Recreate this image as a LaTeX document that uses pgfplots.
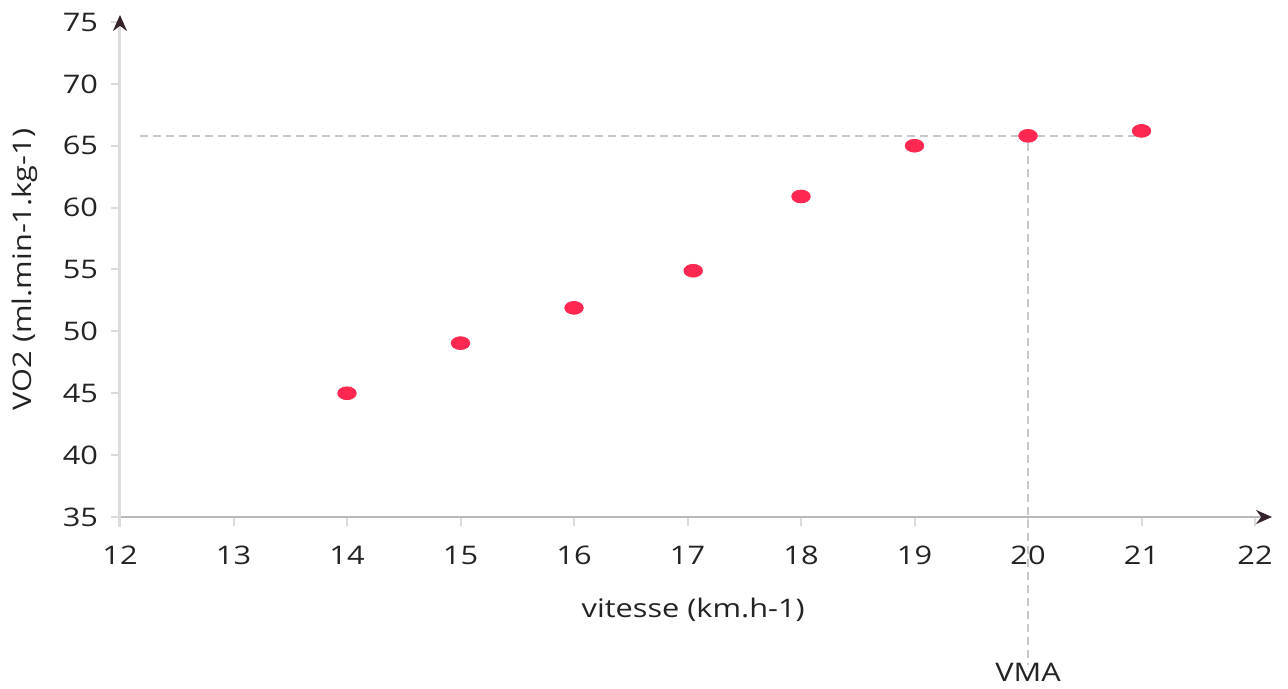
\documentclass[border=0pt]{standalone}
\usepackage{pgfplots}
\pgfplotsset{compat=1.18}
\usepackage{fontspec}
\setmainfont{Open Sans}[FakeStretch=1.2]
\usetikzlibrary{arrows.meta}
\definecolor{ptred}{RGB}{255,40,80}
\definecolor{dashgray}{RGB}{200,200,200}
\definecolor{xaxgray}{RGB}{185,185,185}
\definecolor{yaxgray}{RGB}{220,220,220}
\definecolor{arrowdark}{RGB}{55,35,45}
\definecolor{txt}{RGB}{35,35,35}
\begin{document}
\begin{tikzpicture}
\begin{axis}[
  scale only axis, width=567.5pt, height=247.5pt,
  xmin=12, xmax=22, ymin=35, ymax=75,
  axis x line=bottom, axis y line=left,
  clip=false,
  x axis line style={draw=xaxgray, line width=1pt, -{Stealth[length=8pt,width=7pt,color=arrowdark,fill=arrowdark]}, shorten >=-8.5pt},
  y axis line style={draw=yaxgray, line width=1.5pt, -{Stealth[length=8pt,width=7pt,color=arrowdark,fill=arrowdark]}, shorten >=-3.5pt, shorten <=-5pt},
  xtick={12,13,...,22}, ytick={35,40,...,75},
  tick align=outside,
  major tick length=4.5pt,
  tick style={draw=yaxgray, line width=1pt},
  /pgf/number format/assume math mode=true,
  ticklabel style={font=\fontsize{12.8}{15}\selectfont, text=txt},
  xticklabel style={yshift=-6.5pt},
  yticklabel style={xshift=-3pt},
]
\draw[dashgray, line width=1pt, dash pattern=on 4pt off 2.5pt] (axis cs:12.18,65.8) -- (axis cs:21,65.8);
\draw[dashgray, line width=1pt, dash pattern=on 4pt off 2.5pt] (axis cs:20,65.2) -- ([yshift=-74pt]axis cs:20,35);
\addplot[only marks, draw=ptred, fill=ptred, mark=*, mark size=3.2pt, mark options={xscale=1.45}] coordinates {
 (14,45) (15,49.05) (16,51.9) (17.05,54.9) (18,60.9) (19,65) (20,65.8) (21,66.2)
};
\node[font=\fontsize{12.8}{15}\selectfont, text=txt] at ([yshift=-46.5pt]axis cs:17.05,35) {vitesse (km.h-1)};
\node[font=\fontsize{12.8}{15}\selectfont, text=txt, rotate=90] at ([xshift=-47.5pt]axis cs:12,55) {VO2 (ml.min-1.kg-1)};
\node[font=\fontsize{12.8}{15}\selectfont, text=txt] at ([yshift=-77.5pt]axis cs:20,35) {VMA};
\end{axis}
\pgfresetboundingbox
\path[use as bounding box] (-60pt,-86pt) rectangle (584pt,258.5pt);
\end{tikzpicture}
\end{document}
